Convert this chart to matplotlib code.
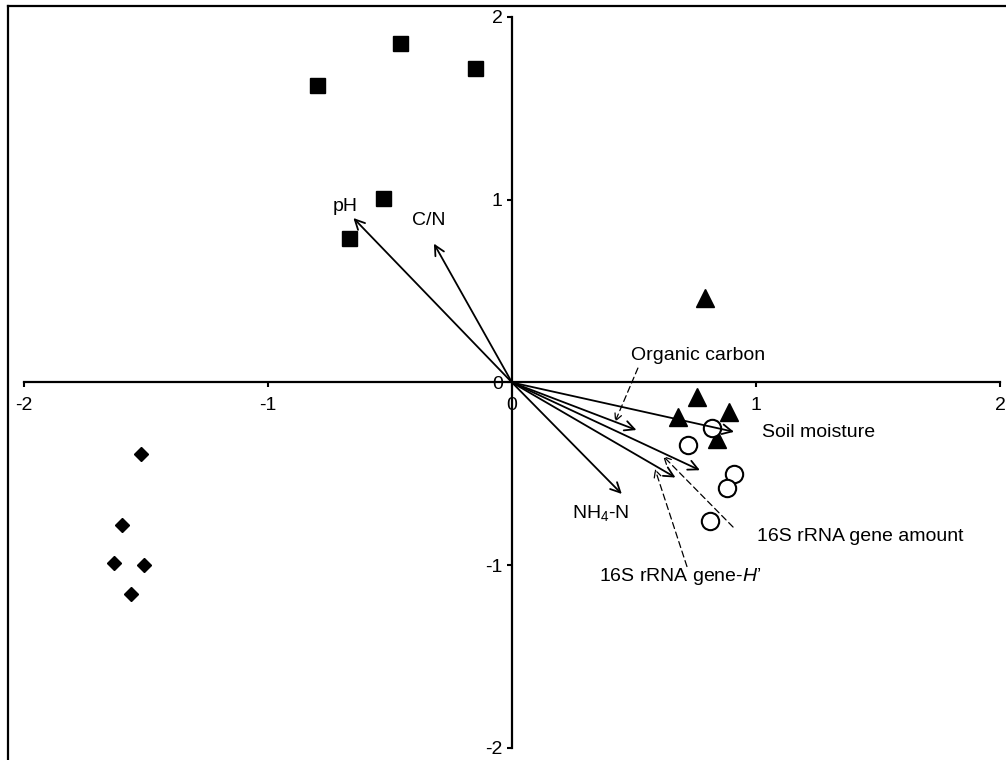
import matplotlib
matplotlib.use('Agg')
import matplotlib.pyplot as plt
from matplotlib.lines import Line2D

plt.rcParams['font.family'] = ['Liberation Sans', 'DejaVu Sans']
plt.rcParams['mathtext.fontset'] = 'custom'
plt.rcParams['mathtext.rm'] = 'Liberation Sans'
plt.rcParams['mathtext.it'] = 'Liberation Sans:italic'
plt.rcParams['axes.unicode_minus'] = False

# sample scores
squares_x = [-0.80, -0.46, -0.15, -0.53, -0.67]
squares_y = [1.63, 1.86, 1.72, 1.01, 0.79]
diamonds_x = [-1.52, -1.60, -1.63, -1.51, -1.56]
diamonds_y = [-0.39, -0.78, -0.99, -1.00, -1.16]
triangles_x = [0.79, 0.76, 0.68, 0.89, 0.84]
triangles_y = [0.46, -0.08, -0.19, -0.16, -0.31]
circles_x = [0.82, 0.72, 0.91, 0.88, 0.81]
circles_y = [-0.25, -0.34, -0.50, -0.58, -0.76]

# environmental vectors
vec_names = ['pH', 'C/N', 'Organic carbon', 'Soil moisture', 'NH$_4$-N',
             '16S rRNA gene amount', "16S rRNA gene-$\\mathit{H}$\u2019"]
vec_x = [-0.65, -0.32, 0.51, 0.91, 0.45, 0.77, 0.67]
vec_y = [0.90, 0.76, -0.26, -0.27, -0.61, -0.48, -0.52]
label_x = [-0.684, -0.340, 0.762, 1.258, 0.365, 1.426, 0.689]
label_y = [0.965, 0.889, 0.150, -0.271, -0.714, -0.845, -1.064]

# dashed pointers from labels to vectors
pointer_start = [(0.516, 0.079), (0.906, -0.791), (0.717, -1.007)]
pointer_end = [(0.422, -0.216), (0.619, -0.402), (0.586, -0.473)]

ticks = [-2, -1, 0, 1, 2]

fig = plt.figure(figsize=(10.06, 7.6), dpi=100)
ax = fig.add_axes([24 / 1006, 1 - 748 / 760, 976 / 1006, 731 / 760])

ax.plot(squares_x, squares_y, 's', color='black', markersize=10.8)
ax.plot(diamonds_x, diamonds_y, 'D', color='black', markersize=7.6)
ax.plot(triangles_x, triangles_y, '^', color='black', markersize=13)
ax.plot(circles_x, circles_y, 'o', markerfacecolor='white', markeredgecolor='black',
        markeredgewidth=1.5, markersize=12.5)

for vx, vy in zip(vec_x, vec_y):
    ax.annotate('', xy=(vx, vy), xytext=(0, 0),
                arrowprops=dict(arrowstyle='->,head_length=0.7,head_width=0.35',
                                lw=1.3, color='black', shrinkA=0, shrinkB=0))

for name, lx, ly in zip(vec_names, label_x, label_y):
    ax.text(lx, ly, name, fontsize=14, ha='center', va='center')

for s, e in zip(pointer_start, pointer_end):
    ax.annotate('', xy=e, xytext=s,
                arrowprops=dict(arrowstyle='->,head_length=0.5,head_width=0.25',
                                lw=0.9, color='black', linestyle=(0, (5, 3)),
                                shrinkA=0, shrinkB=0))

ax.set_xlim(-2, 2)
ax.set_ylim(-2, 2)
ax.set_xticks(ticks)
ax.set_yticks(ticks)
ax.set_xticklabels([str(t) for t in ticks])
ax.set_yticklabels([str(t) for t in ticks])
for side in ['top', 'right']:
    ax.spines[side].set_visible(False)
for side in ['left', 'bottom']:
    ax.spines[side].set_position('zero')
    ax.spines[side].set_linewidth(1.6)
ax.tick_params(direction='out', length=3.6, width=1.5, labelsize=14)
ax.tick_params(axis='x', pad=7)
ax.tick_params(axis='y', pad=3)
ax.patch.set_alpha(0)

# outer chart frame
fig.add_artist(Line2D([8 / 1006, 8 / 1006], [0, 1 - 6 / 760], color='black', lw=1.6))
fig.add_artist(Line2D([8 / 1006, 1], [1 - 6 / 760, 1 - 6 / 760], color='black', lw=1.6))

fig.savefig('out.png', dpi=100)
